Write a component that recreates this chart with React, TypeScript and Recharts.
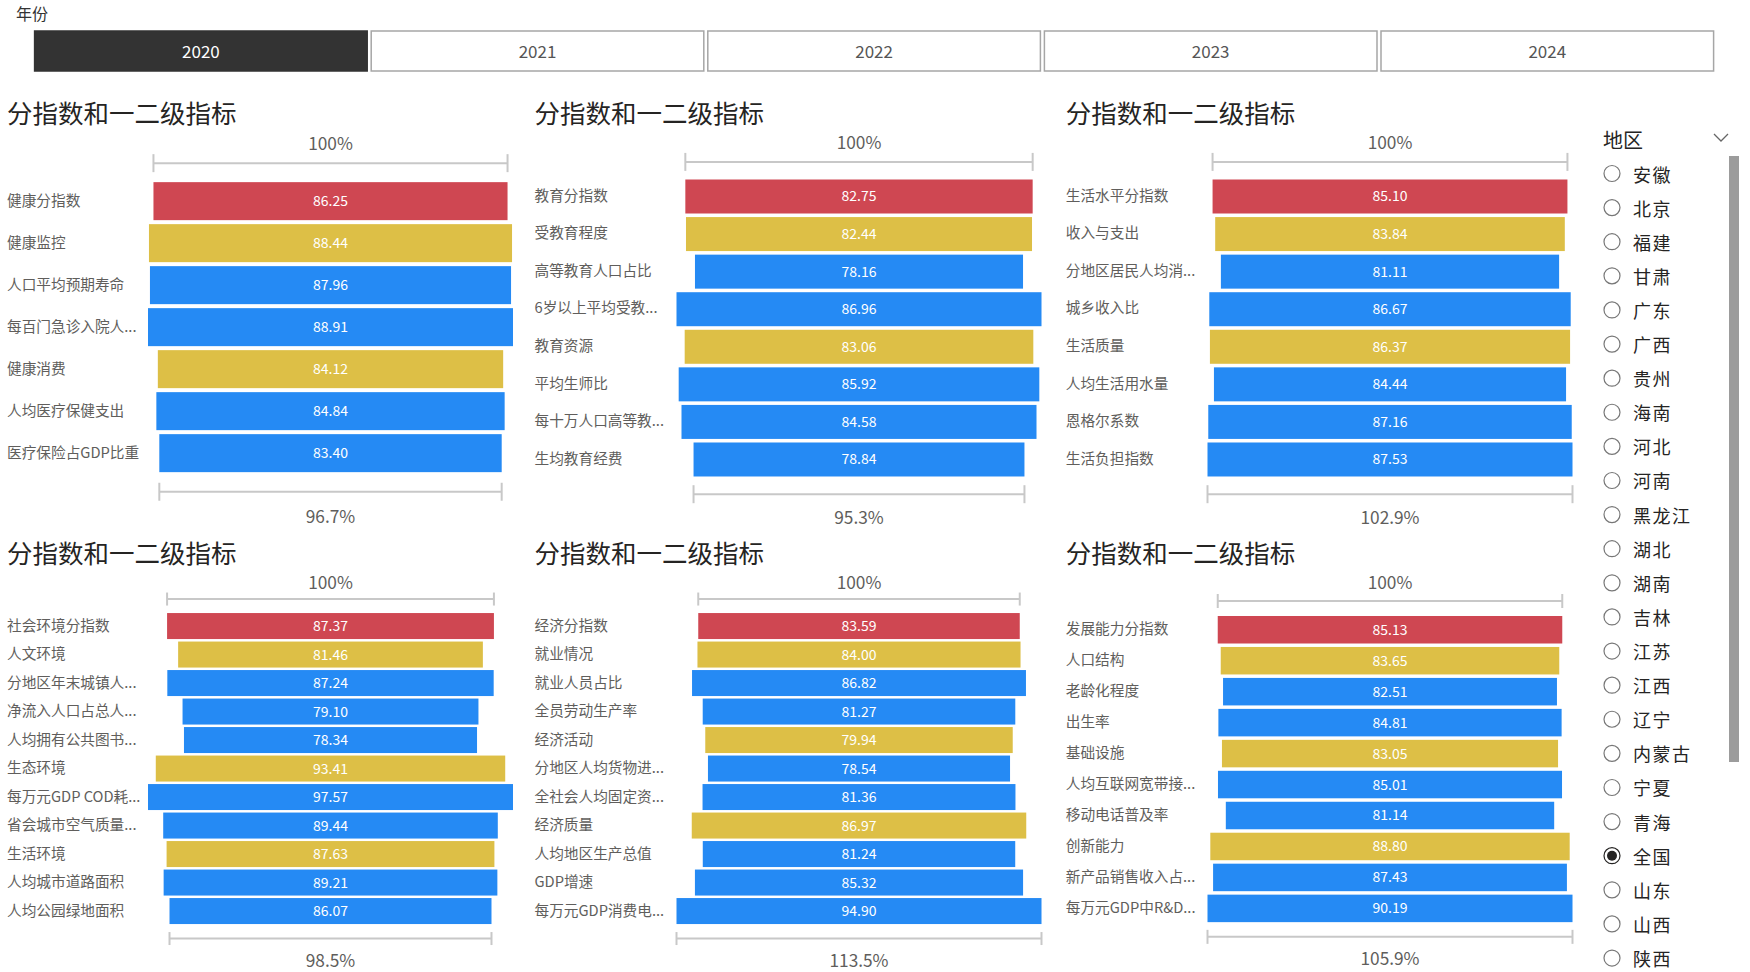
import React from 'react';
import { BarChart, Bar, XAxis, YAxis, LabelList } from 'recharts';

const FONT = '"Noto Sans CJK SC", "Noto Sans", sans-serif';

// ---------- data ----------
const yearLabels = ['2020', '2021', '2022', '2023', '2024'];
const selectedYear = '2020';

const regionNames = ['安徽', '北京', '福建', '甘肃', '广东', '广西', '贵州', '海南', '河北', '河南', '黑龙江', '湖北', '湖南', '吉林', '江苏', '江西', '辽宁', '内蒙古', '宁夏', '青海', '全国', '山东', '山西', '陕西'];
const selectedRegion = '全国';

const panelTitle = '分指数和一二级指标';

// level: 0 = 分指数, 1 = 一级指标, 2 = 二级指标
const healthNames = ['健康分指数', '健康监控', '人口平均预期寿命', '每百门急诊入院人...', '健康消费', '人均医疗保健支出', '医疗保险占GDP比重'];
const healthValues = [86.25, 88.44, 87.96, 88.91, 84.12, 84.84, 83.40];
const healthLevels = [0, 1, 2, 2, 1, 2, 2];

const eduNames = ['教育分指数', '受教育程度', '高等教育人口占比', '6岁以上平均受教...', '教育资源', '平均生师比', '每十万人口高等教...', '生均教育经费'];
const eduValues = [82.75, 82.44, 78.16, 86.96, 83.06, 85.92, 84.58, 78.84];
const eduLevels = [0, 1, 2, 2, 1, 2, 2, 2];

const lifeNames = ['生活水平分指数', '收入与支出', '分地区居民人均消...', '城乡收入比', '生活质量', '人均生活用水量', '恩格尔系数', '生活负担指数'];
const lifeValues = [85.10, 83.84, 81.11, 86.67, 86.37, 84.44, 87.16, 87.53];
const lifeLevels = [0, 1, 2, 2, 1, 2, 2, 2];

const socialNames = ['社会环境分指数', '人文环境', '分地区年末城镇人...', '净流入人口占总人...', '人均拥有公共图书...', '生态环境', '每万元GDP COD耗...', '省会城市空气质量...', '生活环境', '人均城市道路面积', '人均公园绿地面积'];
const socialValues = [87.37, 81.46, 87.24, 79.10, 78.34, 93.41, 97.57, 89.44, 87.63, 89.21, 86.07];
const socialLevels = [0, 1, 2, 2, 2, 1, 2, 2, 1, 2, 2];

const econNames = ['经济分指数', '就业情况', '就业人员占比', '全员劳动生产率', '经济活动', '分地区人均货物进...', '全社会人均固定资...', '经济质量', '人均地区生产总值', 'GDP增速', '每万元GDP消费电...'];
const econValues = [83.59, 84.00, 86.82, 81.27, 79.94, 78.54, 81.36, 86.97, 81.24, 85.32, 94.90];
const econLevels = [0, 1, 2, 2, 1, 2, 2, 1, 2, 2, 2];

const devNames = ['发展能力分指数', '人口结构', '老龄化程度', '出生率', '基础设施', '人均互联网宽带接...', '移动电话普及率', '创新能力', '新产品销售收入占...', '每万元GDP中R&D...'];
const devValues = [85.13, 83.65, 82.51, 84.81, 83.05, 85.01, 81.14, 88.80, 87.43, 90.19];
const devLevels = [0, 1, 2, 2, 1, 2, 2, 1, 2, 2];

// ---------- styles ----------
const LEVEL_COLORS = ['#CF4752', '#DDBF46', '#258AF4'];
const LABEL_GRAY = '#605E5C';
const BRACKET = '#C8C8C8';

type Lay = {
  left: number; top: number; width: number; height: number;
  plotLeft: number; plotRight: number; bandTop: number; pitch: number; barSize: number;
  labelX: number; titleY: number;
  topGap: number; bottomGap: number; topLabelGap: number; bottomLabelGap: number; tickHalf: number;
};

function FunnelPanel({ names, values, levels, lay }: { names: string[]; values: number[]; levels: number[]; lay: Lay }) {
  const max = Math.max(...values);
  const n = values.length;
  const rows = names.map((name, i) => ({ name, idx: i, level: levels[i], value: values[i], pad: (max - values[i]) / 2 }));
  const ratio = ((values[n - 1] / values[0]) * 100).toFixed(1) + '%';
  const marginTop = lay.bandTop - lay.top;
  const marginBottom = lay.top + lay.height - (lay.bandTop + n * lay.pitch);
  const marginRight = lay.left + lay.width - lay.plotRight;

  const bracket = (x: number, w: number, ly: number, ty: number, text: string, key: string) => (
    <g key={key}>
      <line x1={x} x2={x + w} y1={ly} y2={ly} stroke={BRACKET} strokeWidth={2} />
      <line x1={x} x2={x} y1={ly - lay.tickHalf} y2={ly + lay.tickHalf} stroke={BRACKET} strokeWidth={2} />
      <line x1={x + w} x2={x + w} y1={ly - lay.tickHalf} y2={ly + lay.tickHalf} stroke={BRACKET} strokeWidth={2} />
      <text x={x + w / 2} y={ty} textAnchor="middle" dominantBaseline="central" fill={LABEL_GRAY} fontSize={17.3} fontFamily={FONT}>{text}</text>
    </g>
  );

  const shape = (p: any) => {
    const { x, y, width, height, payload } = p;
    const i = payload.idx;
    const els: any[] = [<rect key="r" x={x} y={y} width={width} height={height} fill={LEVEL_COLORS[payload.level]} />];
    if (i === 0) {
      const ly = y - lay.topGap;
      els.push(bracket(x, width, ly, ly - lay.topLabelGap, '100%', 'top'));
    }
    if (i === n - 1) {
      const ly = y + height + lay.bottomGap;
      els.push(bracket(x, width, ly, ly + lay.bottomLabelGap, ratio, 'bot'));
    }
    return <g>{els}</g>;
  };

  const tick = (p: any) => (
    <text x={lay.labelX - lay.left} y={p.y - 2} textAnchor="start" dominantBaseline="central" fill={LABEL_GRAY} fontSize={14.67} fontFamily={FONT}>
      {p.payload.value}
    </text>
  );

  return (
    <div style={{ position: 'absolute', left: lay.left, top: lay.top, width: lay.width, height: lay.height }}>
      <BarChart
        width={lay.width}
        height={lay.height}
        data={rows}
        layout="vertical"
        barSize={lay.barSize}
        margin={{ top: marginTop, right: marginRight, bottom: marginBottom, left: 0 }}
      >
        <XAxis type="number" domain={[0, max]} hide />
        <YAxis type="category" dataKey="name" width={lay.plotLeft - lay.left} axisLine={false} tickLine={false} interval={0} tick={tick} />
        <Bar dataKey="pad" stackId="s" fill="transparent" isAnimationActive={false} />
        <Bar dataKey="value" stackId="s" shape={shape} isAnimationActive={false}>
          <LabelList dataKey="value" position="center" fill="#ffffff" fontSize={14} fontFamily={FONT} formatter={(v: any) => Number(v).toFixed(2)} />
        </Bar>
      </BarChart>
    </div>
  );
}

const upperA = { top: 90, height: 440, titleY: 111, topGap: 19, bottomGap: 19.6, topLabelGap: 21, bottomLabelGap: 24, tickHalf: 9 };
const upperB = { top: 90, height: 440, titleY: 111, topGap: 17.6, bottomGap: 17.7, topLabelGap: 20.5, bottomLabelGap: 22, tickHalf: 9 };
const lowerA = { top: 530, height: 442, titleY: 551, topGap: 14, bottomGap: 14.5, topLabelGap: 17.5, bottomLabelGap: 20.5, tickHalf: 6.5 };
const lowerB = { top: 530, height: 442, titleY: 551, topGap: 15, bottomGap: 14.7, topLabelGap: 19.5, bottomLabelGap: 21, tickHalf: 7 };

const col1 = { left: 0, width: 530, plotLeft: 148, plotRight: 513, labelX: 7 };
const col2 = { left: 520, width: 530, plotLeft: 676.5, plotRight: 1041.5, labelX: 534.5 };
const col3 = { left: 1050, width: 540, plotLeft: 1207.5, plotRight: 1572.5, labelX: 1065.8 };

const lay1: Lay = { ...col1, ...upperA, bandTop: 180.15, pitch: 42, barSize: 38 };
const lay2: Lay = { ...col2, ...upperB, bandTop: 177.5, pitch: 37.57, barSize: 34 };
const lay3: Lay = { ...col3, ...upperB, bandTop: 177.5, pitch: 37.57, barSize: 34 };
const lay4: Lay = { ...col1, ...lowerA, bandTop: 612.05, pitch: 28.5, barSize: 26 };
const lay5: Lay = { ...col2, ...lowerA, bandTop: 612.05, pitch: 28.5, barSize: 26 };
const lay6: Lay = { ...col3, ...lowerB, bandTop: 614.0, pitch: 30.96, barSize: 27.5 };

const panels = [
  { names: healthNames, values: healthValues, levels: healthLevels, lay: lay1 },
  { names: eduNames, values: eduValues, levels: eduLevels, lay: lay2 },
  { names: lifeNames, values: lifeValues, levels: lifeLevels, lay: lay3 },
  { names: socialNames, values: socialValues, levels: socialLevels, lay: lay4 },
  { names: econNames, values: econValues, levels: econLevels, lay: lay5 },
  { names: devNames, values: devValues, levels: devLevels, lay: lay6 },
];

function Chrome() {
  const btnX0 = 34.6;
  const btnW = 332.6;
  const btnPitch = 336.6;
  const itemY0 = 173.5;
  const itemPitch = 34.11;
  return (
    <svg width={1750} height={972} style={{ position: 'absolute', left: 0, top: 0 }} fontFamily={FONT}>
      <text x={16} y={13} dominantBaseline="central" fontSize={16} fill="#333">年份</text>
      {yearLabels.map((yl, i) => {
        const sel = yl === selectedYear;
        const x = btnX0 + i * btnPitch;
        return (
          <g key={yl}>
            <rect x={x} y={31} width={btnW} height={40} fill={sel ? '#333333' : '#ffffff'} stroke={sel ? '#333333' : '#A6A6A6'} strokeWidth={1.5} />
            <text x={x + btnW / 2} y={50.5} textAnchor="middle" dominantBaseline="central" fontSize={17} fill={sel ? '#ffffff' : '#555555'}>{yl}</text>
          </g>
        );
      })}
      {panels.map((p, i) => (
        <text key={i} x={p.lay.labelX} y={p.lay.titleY} dominantBaseline="central" fontSize={25.5} fill="#252423">{panelTitle}</text>
      ))}
      <text x={1603} y={139} dominantBaseline="central" fontSize={20} fill="#252423">地区</text>
      <polyline points="1714,134 1721,141 1728,134" fill="none" stroke="#666" strokeWidth={1.3} />
      <rect x={1729} y={156} width={10} height={606} fill="#9C9C9C" />
      {regionNames.map((r, i) => {
        const cy = itemY0 + i * itemPitch;
        const sel = r === selectedRegion;
        return (
          <g key={r}>
            <circle cx={1612} cy={cy} r={8} fill="#fff" stroke={sel ? '#252423' : '#777'} strokeWidth={1.2} />
            {sel && <circle cx={1612} cy={cy} r={5} fill="#252423" />}
            <text x={1633} y={cy} dominantBaseline="central" fontSize={18} letterSpacing={1.5} fill="#252423">{r}</text>
          </g>
        );
      })}
    </svg>
  );
}

export default function App() {
  return (
    <div style={{ position: 'fixed', left: 0, top: 0, width: 1750, height: 972, background: '#ffffff', overflow: 'hidden', fontFamily: FONT }}>
      <Chrome />
      {panels.map((p, i) => (
        <FunnelPanel key={i} names={p.names} values={p.values} levels={p.levels} lay={p.lay} />
      ))}
    </div>
  );
}
